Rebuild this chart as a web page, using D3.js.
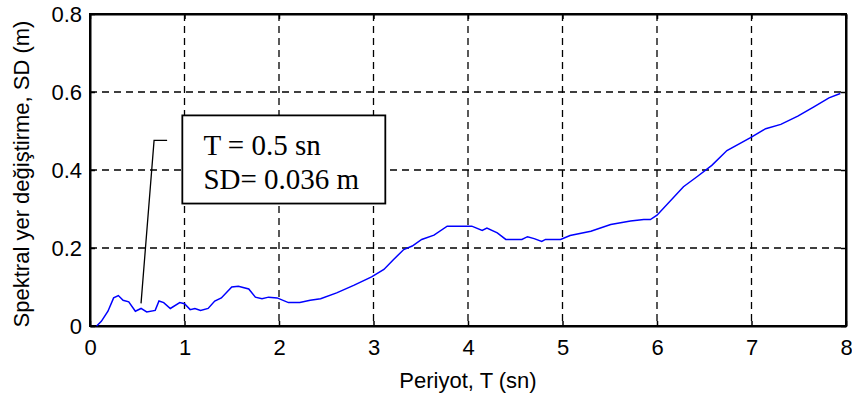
<!DOCTYPE html>
<html>
<head>
<meta charset="utf-8">
<script src="https://cdn.jsdelivr.net/npm/d3@7"></script>
<style>
  body { margin: 0; background: #fff; }
  .tick text { font-family: Arial, 'Liberation Sans', sans-serif; font-size: 22px; fill: #000; }
</style>
</head>
<body>
<div id="chart"></div>
<script>
var width = 852;
var height = 396;
var margin = { top: 14, right: 6, bottom: 70, left: 90 };
var graphWidth = width - margin.left - margin.right;
var graphHeight = height - margin.top - margin.bottom;

// period (s) and spectral displacement (m)
var periods = [0.07, 0.12, 0.19, 0.25, 0.30, 0.35, 0.41, 0.48, 0.54, 0.60, 0.69, 0.73, 0.78, 0.85, 0.95,
  1.00, 1.06, 1.11, 1.17, 1.25, 1.32, 1.39, 1.50, 1.57, 1.68, 1.75, 1.82, 1.89, 1.98, 2.10,
  2.22, 2.33, 2.44, 2.61, 2.79, 2.98, 3.11, 3.21, 3.32, 3.41, 3.51, 3.64, 3.78, 4.04, 4.15,
  4.20, 4.31, 4.40, 4.57, 4.63, 4.70, 4.78, 4.82, 4.98, 5.08, 5.30, 5.51, 5.72, 5.86, 5.93,
  6.00, 6.28, 6.43, 6.58, 6.74, 6.99, 7.15, 7.31, 7.49, 7.66, 7.82, 7.94];
var sdValues = [0.0, 0.012, 0.038, 0.072, 0.078, 0.066, 0.062, 0.038, 0.045, 0.036, 0.040, 0.064, 0.060, 0.045, 0.060,
  0.057, 0.042, 0.045, 0.040, 0.045, 0.064, 0.072, 0.100, 0.102, 0.095, 0.074, 0.070, 0.074, 0.072, 0.060,
  0.060, 0.066, 0.070, 0.085, 0.104, 0.126, 0.145, 0.170, 0.196, 0.205, 0.222, 0.233, 0.256, 0.256, 0.245,
  0.251, 0.239, 0.222, 0.222, 0.229, 0.224, 0.217, 0.222, 0.222, 0.232, 0.243, 0.260, 0.269, 0.273, 0.273,
  0.284, 0.357, 0.384, 0.412, 0.450, 0.483, 0.506, 0.517, 0.538, 0.562, 0.585, 0.596];

var xTicks = [0, 1, 2, 3, 4, 5, 6, 7, 8];
var yTicks = [0, 0.2, 0.4, 0.6, 0.8];
var yTickLabels = ['0', '0.2', '0.4', '0.6', '0.8'];

var noteLines = ['T = 0.5 sn', 'SD= 0.036 m'];
var notePoint = [0.54, 0.058];

var data = periods.map((t, i) => ({ t: t, sd: sdValues[i] }));

var svg = d3.select('#chart').append('svg')
  .attr('width', width)
  .attr('height', height);
var graph = svg.append('g')
  .attr('transform', 'translate(' + margin.left + ',' + margin.top + ')');

var x = d3.scaleLinear().domain([0, 8]).range([0, graphWidth]);
var y = d3.scaleLinear().domain([0, 0.8]).range([graphHeight, 0]);

// dashed grid
graph.append('g').selectAll('line').data(xTicks.slice(1, -1)).enter().append('line')
  .attr('x1', d => x(d)).attr('x2', d => x(d))
  .attr('y1', 0).attr('y2', graphHeight)
  .attr('stroke', '#000').attr('stroke-width', 1.3).attr('stroke-dasharray', '7,5');
graph.append('g').selectAll('line').data(yTicks.slice(1, -1)).enter().append('line')
  .attr('x1', 0).attr('x2', graphWidth)
  .attr('y1', d => y(d)).attr('y2', d => y(d))
  .attr('stroke', '#000').attr('stroke-width', 1.3).attr('stroke-dasharray', '7,5');

// axes with inward ticks
var xAxis = d3.axisBottom(x).tickValues(xTicks).tickFormat(d3.format('d')).tickSizeInner(-5).tickSizeOuter(0).tickPadding(13);
var yAxis = d3.axisLeft(y).tickValues(yTicks).tickFormat((d, i) => yTickLabels[i]).tickSizeInner(-5).tickSizeOuter(0).tickPadding(8);

graph.append('g').attr('transform', 'translate(0,' + graphHeight + ')').call(xAxis);
graph.append('g').call(yAxis);
graph.append('g').call(d3.axisTop(x).tickValues(xTicks).tickFormat('').tickSizeInner(-5).tickSizeOuter(0));
graph.append('g').attr('transform', 'translate(' + graphWidth + ',0)')
  .call(d3.axisRight(y).tickValues(yTicks).tickFormat('').tickSizeInner(-5).tickSizeOuter(0));
graph.selectAll('.domain').attr('stroke', '#000').attr('stroke-width', 2);
graph.selectAll('.tick line').attr('stroke', '#000').attr('stroke-width', 1.5);

// box
graph.append('rect')
  .attr('x', 0).attr('y', 0).attr('width', graphWidth).attr('height', graphHeight)
  .attr('fill', 'none').attr('stroke', '#000').attr('stroke-width', 2);

// curve
var line = d3.line().x(d => x(d.t)).y(d => y(d.sd));
graph.append('path')
  .datum(data)
  .attr('d', line)
  .attr('fill', 'none')
  .attr('stroke', '#0000ff')
  .attr('stroke-width', 1.5);

// annotation leader
graph.append('path')
  .attr('d', d3.line()([[x(notePoint[0]), y(notePoint[1])], [x(0.678), y(0.476)], [x(0.816), y(0.476)]]))
  .attr('fill', 'none').attr('stroke', '#000').attr('stroke-width', 1.3);

// annotation box
graph.append('rect')
  .attr('x', x(0.977)).attr('y', y(0.54))
  .attr('width', x(3.125) - x(0.977)).attr('height', y(0.314) - y(0.54))
  .attr('fill', '#fff').attr('stroke', '#000').attr('stroke-width', 1.8);

graph.append('g').selectAll('text').data(noteLines).enter().append('text')
  .attr('x', x(1.2))
  .attr('y', (d, i) => y(0.54) + 40 + i * 34)
  .attr('font-family', "'Times New Roman', 'Liberation Serif', serif")
  .attr('font-size', 29)
  .text(d => d);

// axis labels
svg.append('text')
  .attr('x', margin.left + graphWidth / 2)
  .attr('y', height - 8)
  .attr('text-anchor', 'middle')
  .attr('font-family', "Arial, 'Liberation Sans', sans-serif")
  .attr('font-size', 22)
  .text('Periyot, T (sn)');

svg.append('text')
  .attr('transform', 'translate(29,' + (margin.top + graphHeight / 2 + 4) + ') rotate(-90)')
  .attr('text-anchor', 'middle')
  .attr('font-family', "Arial, 'Liberation Sans', sans-serif")
  .attr('font-size', 22)
  .text('Spektral yer değiştirme, SD (m)');
</script>
</body>
</html>
